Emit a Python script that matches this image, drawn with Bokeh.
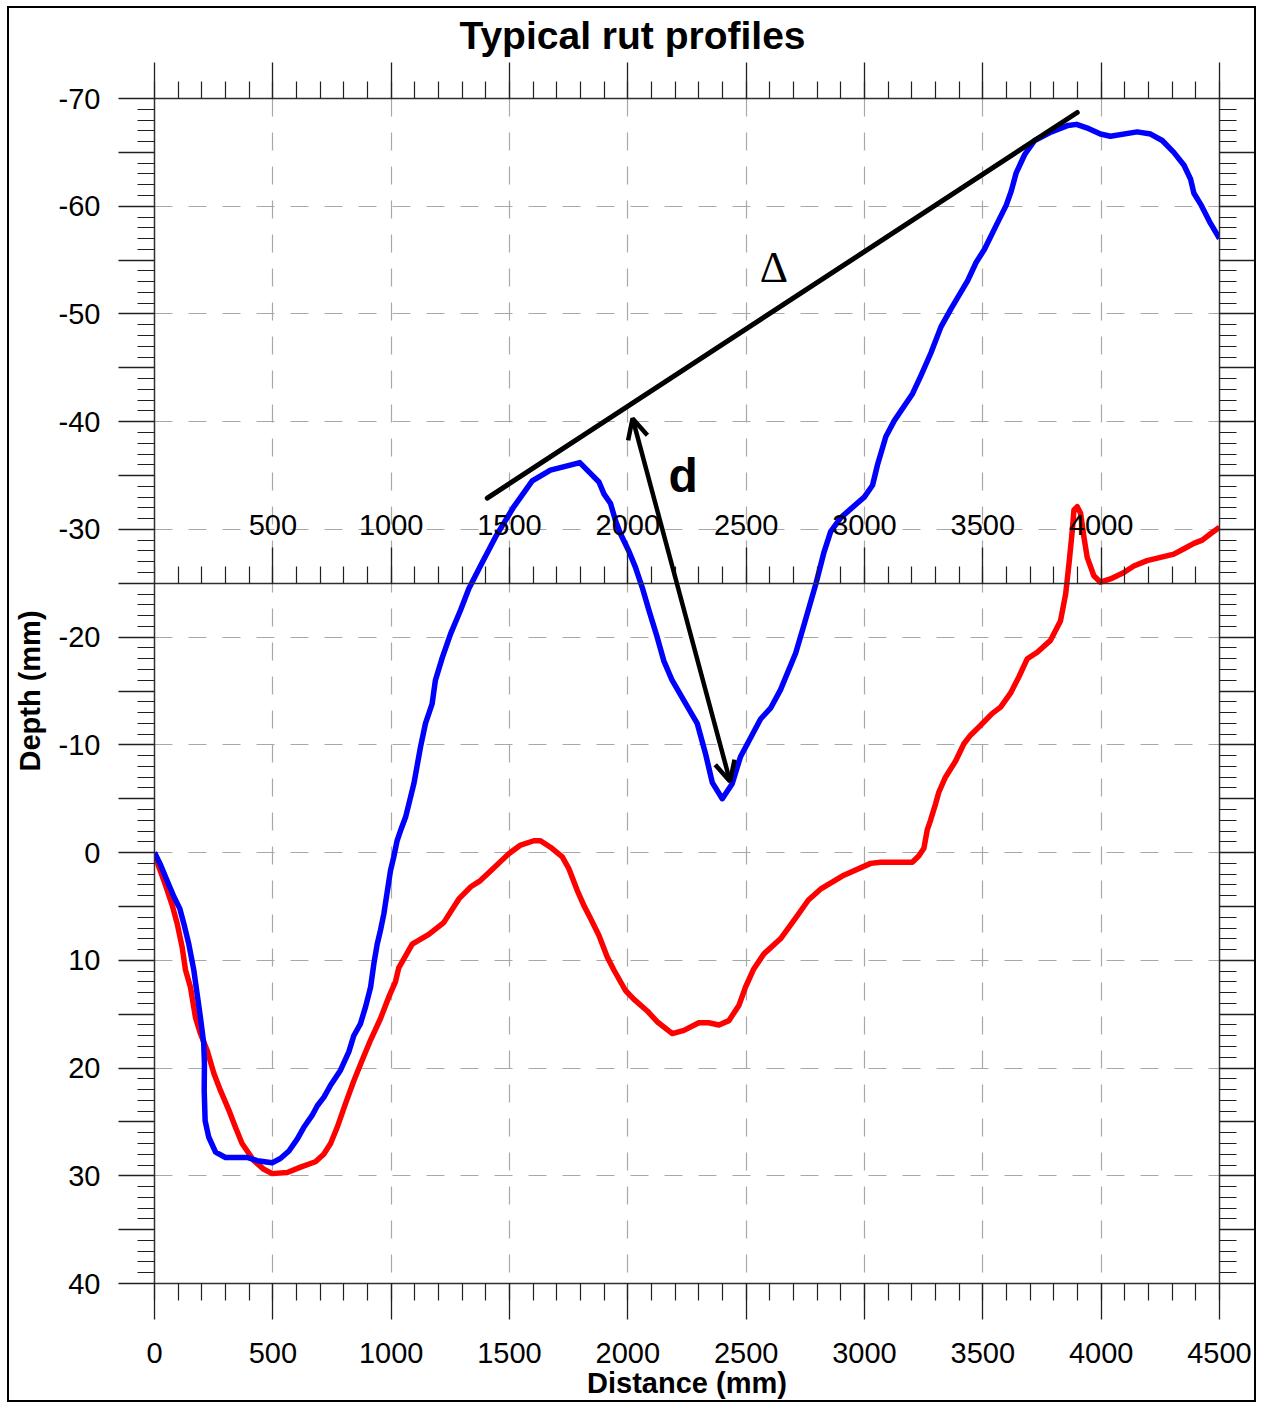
from bokeh.plotting import figure
from bokeh.models import (LinearAxis, FixedTicker, Range1d, Arrow, OpenHead, Label, Grid)
from bokeh.embed import file_html
from bokeh.resources import INLINE

# ---------------- data ----------------
blue_x = [0, 25, 53, 82, 107, 124, 145, 166, 180, 194, 208, 211, 210, 214, 229, 258, 300, 392,
          434, 497, 532, 568, 603, 631, 666, 688, 716, 744, 786, 821, 842, 870, 892, 913, 927,
          941, 955, 969, 983, 997, 1011, 1025, 1039, 1061, 1096, 1124, 1145, 1173, 1187, 1216,
          1251, 1293, 1328, 1377, 1441, 1518, 1596, 1673, 1744, 1797, 1842, 1878, 1899, 1927,
          1948, 1969, 2004, 2032, 2061, 2089, 2124, 2152, 2187, 2237, 2293, 2328, 2357, 2399,
          2441, 2476, 2561, 2603, 2645, 2709, 2744, 2794, 2829, 2857, 2900, 2999, 3034, 3055,
          3090, 3126, 3203, 3239, 3281, 3323, 3366, 3436, 3472, 3507, 3556, 3599, 3620, 3641,
          3677, 3719, 3790, 3860, 3896, 3948, 3997, 4039, 4152, 4209, 4258, 4307, 4350, 4378,
          4392, 4420, 4462, 4500]
blue_y = [0, 1.1, 2.6, 4.1, 5.2, 6.6, 8.5, 10.9, 13.1, 15.3, 17.7, 19.6, 22.1, 24.9, 26.4, 27.8,
          28.3, 28.3, 28.6, 28.8, 28.4, 27.7, 26.6, 25.5, 24.4, 23.5, 22.7, 21.6, 20.2, 18.5, 17.0,
          15.9, 14.3, 12.5, 10.3, 8.5, 7.2, 5.7, 3.7, 1.7, 0.4, -1.1, -2.0, -3.3, -6.4, -9.8,
          -12.0, -13.8, -16.0, -18.1, -20.3, -22.5, -24.5, -26.6, -29.3, -32.1, -34.5, -35.5,
          -35.9, -36.2, -35.2, -34.4, -33.3, -32.4, -30.8, -29.6, -28.0, -26.5, -24.6, -22.5,
          -20.0, -17.8, -16.0, -14.1, -12.0, -9.2, -6.5, -5.0, -6.4, -8.9, -12.4, -13.4, -15.1,
          -18.5, -21.1, -24.9, -27.9, -29.8, -31.1, -33.0, -34.1, -36.0, -38.6, -40.1, -42.6,
          -44.3, -46.4, -48.8, -50.5, -53.1, -54.8, -56.0, -58.2, -60.1, -61.4, -63.1, -64.8,
          -66.1, -66.9, -67.5, -67.6, -67.2, -66.7, -66.5, -66.9, -66.7, -66.1, -65.0, -63.8,
          -62.5, -61.2, -60.2, -58.4, -57.0]

red_x = [0, 18, 46, 75, 96, 117, 131, 152, 173, 194, 223, 251, 279, 314, 342, 370, 420, 462, 497,
         561, 617, 680, 715, 744, 772, 807, 842, 877, 913, 955, 990, 1018, 1032, 1089, 1159, 1222,
         1286, 1335, 1377, 1420, 1497, 1547, 1603, 1631, 1673, 1723, 1751, 1786, 1814, 1842, 1878,
         1913, 1941, 1990, 2025, 2082, 2124, 2188, 2237, 2300, 2342, 2385, 2427, 2469, 2497, 2532,
         2575, 2645, 2708, 2763, 2814, 2913, 3026, 3068, 3202, 3230, 3251, 3265, 3279, 3300, 3314,
         3342, 3385, 3420, 3448, 3490, 3539, 3575, 3617, 3652, 3688, 3730, 3786, 3828, 3850, 3864,
         3878, 3885, 3899, 3913, 3927, 3941, 3969, 3997, 4039, 4096, 4138, 4194, 4251, 4307, 4350,
         4392, 4427, 4462, 4500]
red_y = [0, 1.3, 3.0, 4.9, 6.6, 8.8, 10.9, 12.5, 15.3, 16.8, 18.4, 20.5, 22.1, 23.9, 25.5, 27.0,
         28.6, 29.4, 29.8, 29.7, 29.2, 28.7, 28.0, 27.0, 25.5, 23.3, 21.2, 19.3, 17.4, 15.4, 13.4,
         12.0, 10.7, 8.5, 7.6, 6.5, 4.3, 3.2, 2.6, 1.7, 0.1, -0.7, -1.1, -1.1, -0.5, 0.4, 1.5, 3.5,
         4.9, 6.1, 7.7, 9.7, 10.9, 12.8, 13.6, 14.7, 15.7, 16.8, 16.5, 15.8, 15.8, 16.0, 15.6,
         14.2, 12.5, 10.8, 9.4, 8.0, 6.1, 4.4, 3.4, 2.1, 1.0, 0.9, 0.9, 0.3, -0.4, -2.1, -3.0,
         -4.5, -5.6, -7.0, -8.5, -10.1, -10.9, -11.8, -12.9, -13.5, -14.8, -16.3, -18.0, -18.6,
         -19.7, -21.5, -24.0, -26.8, -29.9, -31.8, -32.1, -31.5, -29.3, -27.4, -25.7, -25.1,
         -25.4, -26.0, -26.6, -27.1, -27.4, -27.7, -28.2, -28.7, -29.0, -29.6, -30.2]

tangent_x = [1406, 3899]
tangent_y = [-32.9, -68.7]
arrow_start = (2020, -40.3)
arrow_end = (2432, -6.6)
delta_pos = (2617, -54.3)
d_pos = (2234, -35.0)

x_major = list(range(0, 4501, 500))
x_minor = list(range(0, 4501, 100))
mid_labels = list(range(500, 4001, 500))
y_labels = list(range(-70, 41, 10))
y_half = list(range(-65, 40, 10))
y_major = list(range(-70, 41, 5))
y_minor = list(range(-70, 41, 1))
mid_level = -25

assert len(blue_x) == len(blue_y) and len(red_x) == len(red_y)

FONT = "Liberation Sans"

p = figure(width=1263, height=1403, x_range=Range1d(0, 4500), y_range=Range1d(40, -70),
           output_backend="svg", toolbar_location=None,
           x_axis_location=None, y_axis_location=None,
           min_border_left=154, min_border_right=44, min_border_top=98, min_border_bottom=120,
           background_fill_color="white", border_fill_color="white")
p.outline_line_color = None
p.grid.visible = False


def style_axis(ax, labels=True):
    ax.axis_line_color = "#303030"
    ax.axis_line_width = 1.5
    ax.major_tick_in = 0
    ax.major_tick_out = 36
    ax.minor_tick_in = 0
    ax.minor_tick_out = 17
    ax.major_tick_line_color = "#202020"
    ax.minor_tick_line_color = "#202020"
    ax.major_tick_line_width = 1.3
    ax.minor_tick_line_width = 1.2
    ax.major_label_text_font = FONT
    if labels:
        ax.major_label_text_font_size = "29px"
        ax.major_label_text_color = "black"
    else:
        # tick marks only: labels are not painted and take ~no room
        ax.major_label_text_font_size = "1px"
        ax.major_label_text_color = None
        ax.major_label_standoff = 0
    ax.axis_label_text_font = FONT
    ax.axis_label_text_font_size = "29px"
    ax.axis_label_text_font_style = "bold"
    ax.axis_label_text_color = "black"


# left, nearest the frame: long unlabelled ticks at the fives.
# The ticks are drawn outward through a negative "in" length so the axis takes no room.
left5 = LinearAxis(ticker=FixedTicker(ticks=y_half, minor_ticks=[]))
style_axis(left5, labels=False)
left5.axis_line_color = None
left5.major_tick_out = 0
left5.major_tick_in = -36
left5.minor_tick_out = 0
left5.major_label_standoff = -1
p.add_layout(left5, "left")

# left: labelled every 10, minor every 1
left = LinearAxis(ticker=FixedTicker(ticks=y_labels, minor_ticks=y_minor),
                  major_label_overrides={t: str(t) for t in y_labels},
                  axis_label="Depth (mm)")
style_axis(left)
left.major_label_standoff = 18
left.axis_label_standoff = 10
p.add_layout(left, "left")

right = LinearAxis(ticker=FixedTicker(ticks=y_major, minor_ticks=y_minor))
style_axis(right, labels=False)
p.add_layout(right, "right")

bottom = LinearAxis(ticker=FixedTicker(ticks=x_major, minor_ticks=x_minor),
                    axis_label="Distance (mm)")
style_axis(bottom)
bottom.major_label_standoff = 23
bottom.axis_label_standoff = 1
p.add_layout(bottom, "below")

top = LinearAxis(ticker=FixedTicker(ticks=x_major, minor_ticks=x_minor))
style_axis(top, labels=False)
p.add_layout(top, "above")

mid = LinearAxis(ticker=FixedTicker(ticks=mid_labels, minor_ticks=x_minor),
                 fixed_location=mid_level)
style_axis(mid)
mid.major_label_standoff = 12
p.add_layout(mid, "above")

# grids
p.add_layout(Grid(dimension=0, ticker=FixedTicker(ticks=x_major[1:-1]),
                  grid_line_color="#a8a8a8", grid_line_dash="18 16", grid_line_width=1.2))
p.add_layout(Grid(dimension=1, ticker=FixedTicker(ticks=[t for t in y_labels[1:-1]]),
                  grid_line_color="#a8a8a8", grid_line_dash="18 16", grid_line_width=1.2))

# data lines
p.line(red_x, red_y, line_color="#ff0000", line_width=5.5, line_join="round")
p.line(blue_x, blue_y, line_color="#0000ff", line_width=5.5, line_join="round")
p.line(tangent_x, tangent_y, line_color="black", line_width=5, line_cap="round")

p.add_layout(Arrow(start=OpenHead(size=20, line_width=4.5, line_color="black"),
                   end=OpenHead(size=20, line_width=4.5, line_color="black"),
                   x_start=arrow_start[0], y_start=arrow_start[1],
                   x_end=arrow_end[0], y_end=arrow_end[1],
                   line_width=4.5, line_color="black"))

p.add_layout(Label(x=d_pos[0], y=d_pos[1], text="d", text_font=FONT, text_font_size="48px",
                   text_font_style="bold", text_align="center", text_baseline="middle",
                   text_color="black"))
p.add_layout(Label(x=delta_pos[0], y=delta_pos[1], text="Δ", text_font="Liberation Serif",
                   text_font_size="44px", text_align="center", text_baseline="middle",
                   text_color="black"))

# title
p.title.text = "Typical rut profiles"
p.title.text_font = FONT
p.title.text_font_size = "39px"
p.title.text_font_style = "bold"
p.title.text_color = "black"
p.title.align = "left"
p.title.offset = 305
p.title.standoff = 12

# outer border (drawn by CSS around the whole chart)
p.stylesheets = [":host::after { content: ''; position: absolute; left: 7px; top: 6px; "
                 "width: 1245px; height: 1392px; border: 2px solid black; "
                 "pointer-events: none; box-sizing: content-box; }"]

open("out.html", "w").write(file_html(p, INLINE))
